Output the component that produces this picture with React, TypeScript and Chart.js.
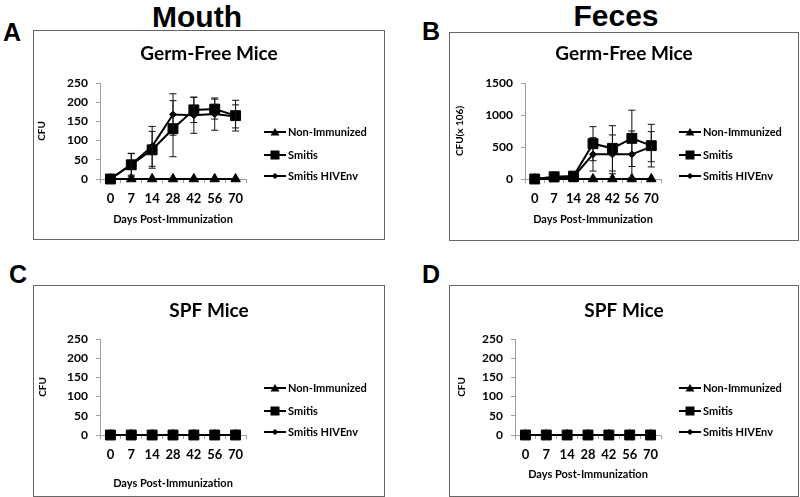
import React, { useEffect, useRef } from "react";
import { Chart, registerables } from "chart.js";

Chart.register(...registerables);

// ---------- data ----------
const days = ["0", "7", "14", "28", "42", "56", "70"];
const seriesNames = ["Non-Immunized", "Smitis", "Smitis HIVEnv"];

// A: Mouth, Germ-Free
const mouthGFNonImm = [0, 0, 0, 0, 0, 0, 0];
const mouthGFSmitis = [0, 37, 76, 131, 180, 182, 165];
const mouthGFSmitisErr = [0, 30, 48, 73, 33, 26, 40];
const mouthGFHiv = [0, 38, 85, 168, 166, 169, 163];
const mouthGFHivErr = [0, 28, 52, 54, 47, 42, 30];

// B: Feces, Germ-Free (CFU x 10^6)
const fecesGFNonImm = [0, 0, 0, 0, 0, 0, 0];
const fecesGFSmitis = [0, 35, 45, 552, 479, 635, 521];
const fecesGFSmitisErr = [0, 0, 0, 266, 354, 440, 333];
const fecesGFHiv = [0, 25, 35, 385, 385, 385, 505];
const fecesGFHivErr = [0, 0, 0, 261, 303, 365, 235];

// C: Mouth, SPF
const mouthSPFNonImm = [0, 0, 0, 0, 0, 0, 0];
const mouthSPFSmitis = [0, 0, 0, 0, 0, 0, 0];
const mouthSPFHiv = [0, 0, 0, 0, 0, 0, 0];

// D: Feces, SPF
const fecesSPFNonImm = [0, 0, 0, 0, 0, 0, 0];
const fecesSPFSmitis = [0, 0, 0, 0, 0, 0, 0];
const fecesSPFHiv = [0, 0, 0, 0, 0, 0, 0];

const yTicksMouth = { max: 250, step: 50 };
const yTicksFeces = { max: 1500, step: 500 };

// ---------- layout config ----------
const FONT = "Lato, 'Open Sans', sans-serif";

type PanelCfg = {
  box: { left: number; top: number; width: number; height: number };
  area: { left: number; right: number; top: number; bottom: number };
  title: string;
  titleCenter: number;
  yMax: number;
  yStep: number;
  yTitle: string;
  yTitleX: number;
  xTitleY: number;
  series: number[][];
  errors: (number[] | null)[];
};

const panels: PanelCfg[] = [
  {
    box: { left: 33, top: 30, width: 352, height: 210 },
    area: { left: 66, right: 212, top: 52, bottom: 148 },
    title: "Germ-Free Mice",
    titleCenter: 23,
    yMax: yTicksMouth.max,
    yStep: yTicksMouth.step,
    yTitle: "CFU",
    yTitleX: 8,
    xTitleY: 188,
    series: [mouthGFNonImm, mouthGFSmitis, mouthGFHiv],
    errors: [null, mouthGFSmitisErr, mouthGFHivErr],
  },
  {
    box: { left: 449, top: 32, width: 350, height: 209 },
    area: { left: 75, right: 211, top: 50, bottom: 146 },
    title: "Germ-Free Mice",
    titleCenter: 21,
    yMax: yTicksFeces.max,
    yStep: yTicksFeces.step,
    yTitle: "CFU(x 106)",
    yTitleX: 10,
    xTitleY: 186,
    series: [fecesGFNonImm, fecesGFSmitis, fecesGFHiv],
    errors: [null, fecesGFSmitisErr, fecesGFHivErr],
  },
  {
    box: { left: 33, top: 285, width: 352, height: 212 },
    area: { left: 66, right: 212, top: 53, bottom: 149 },
    title: "SPF Mice",
    titleCenter: 25,
    yMax: yTicksMouth.max,
    yStep: yTicksMouth.step,
    yTitle: "CFU",
    yTitleX: 9,
    xTitleY: 197,
    series: [mouthSPFNonImm, mouthSPFSmitis, mouthSPFHiv],
    errors: [null, null, null],
  },
  {
    box: { left: 449, top: 285, width: 350, height: 212 },
    area: { left: 65, right: 211, top: 53, bottom: 149 },
    title: "SPF Mice",
    titleCenter: 25,
    yMax: yTicksMouth.max,
    yStep: yTicksMouth.step,
    yTitle: "CFU",
    yTitleX: 12,
    xTitleY: 188,
    series: [fecesSPFNonImm, fecesSPFSmitis, fecesSPFHiv],
    errors: [null, null, null],
  },
];

const pointStyles = ["triangle", "rect", "rectRot"];
const pointRadii = [5.5, 7, 3.5];

function drawLegendMarker(ctx: CanvasRenderingContext2D, kind: number, x: number, y: number) {
  ctx.beginPath();
  if (kind === 0) {
    ctx.moveTo(x, y - 4);
    ctx.lineTo(x + 4.5, y + 3.5);
    ctx.lineTo(x - 4.5, y + 3.5);
    ctx.closePath();
  } else if (kind === 1) {
    ctx.rect(x - 4.5, y - 4.5, 9, 9);
  } else {
    ctx.moveTo(x, y - 3);
    ctx.lineTo(x + 3.5, y);
    ctx.lineTo(x, y + 3);
    ctx.lineTo(x - 3.5, y);
    ctx.closePath();
  }
  ctx.fill();
}

function Panel({ cfg }: { cfg: PanelCfg }) {
  const ref = useRef<HTMLCanvasElement>(null);
  const W = cfg.box.width - 2;
  const H = cfg.box.height - 2;

  useEffect(() => {
    const xTitleLH = 11 * 1.2;
    const xTitlePadBottom = H - cfg.xTitleY - xTitleLH / 2;
    const yTitleLH = 10 * 1.2;
    const yTitlePadTop = cfg.yTitleX - yTitleLH / 2;

    const errorBars = {
      id: "errorBars",
      afterDatasetsDraw(chart: any) {
        const ctx = chart.ctx;
        const yScale = chart.scales.y;
        ctx.save();
        ctx.strokeStyle = "#111";
        ctx.lineWidth = 1;
        chart.data.datasets.forEach((ds: any, di: number) => {
          const err = cfg.errors[di];
          if (!err) return;
          const meta = chart.getDatasetMeta(di);
          meta.data.forEach((pt: any, i: number) => {
            const e = err[i];
            if (!e) return;
            const v = ds.data[i];
            const yTop = yScale.getPixelForValue(v + e);
            const yBot = yScale.getPixelForValue(Math.max(0, v - e));
            const x = pt.x;
            ctx.beginPath();
            ctx.moveTo(x, yTop);
            ctx.lineTo(x, yBot);
            ctx.moveTo(x - 3.5, yTop);
            ctx.lineTo(x + 3.5, yTop);
            if (v - e > 0) {
              ctx.moveTo(x - 3.5, yBot);
              ctx.lineTo(x + 3.5, yBot);
            }
            ctx.stroke();
          });
        });
        ctx.restore();
      },
    };

    const titleAndLegend = {
      id: "titleAndLegend",
      afterDraw(chart: any) {
        const ctx = chart.ctx;
        const a = chart.chartArea;
        ctx.save();
        // chart title, centred on the whole panel
        ctx.fillStyle = "#000";
        ctx.font = `bold 19px ${FONT}`;
        ctx.textAlign = "center";
        ctx.textBaseline = "middle";
        ctx.fillText(cfg.title, chart.width / 2, cfg.titleCenter);
        // legend
        const rows = [49, 72, 93];
        seriesNames.forEach((name, i) => {
          const y = a.top + rows[i];
          const x0 = a.right + 18;
          const x1 = a.right + 40;
          ctx.strokeStyle = "#000";
          ctx.fillStyle = "#000";
          ctx.lineWidth = 2;
          ctx.beginPath();
          ctx.moveTo(x0, y);
          ctx.lineTo(x1, y);
          ctx.stroke();
          drawLegendMarker(ctx, i, (x0 + x1) / 2, y);
          ctx.font = `bold 11px ${FONT}`;
          ctx.textBaseline = "middle";
          ctx.textAlign = "left";
          ctx.fillText(name, x1 + 2, y + 0.5);
        });
        ctx.restore();
      },
    };

    const chart = new Chart(ref.current as HTMLCanvasElement, {
      type: "line",
      data: {
        labels: days,
        datasets: cfg.series.map((vals, i) => ({
          label: seriesNames[i],
          data: vals,
          borderColor: "#000",
          backgroundColor: "#000",
          borderWidth: 2,
          pointStyle: pointStyles[i] as any,
          pointRadius: pointRadii[i],
          pointBackgroundColor: "#000",
          pointBorderColor: "#000",
          pointBorderWidth: 1,
          tension: 0,
          fill: false,
          clip: false as any,
        })),
      },
      options: {
        animation: false,
        responsive: false,
        devicePixelRatio: 1,
        events: [],
        layout: {
          padding: { left: 0, right: W - cfg.area.right, top: cfg.area.top, bottom: 0 },
        },
        plugins: {
          legend: { display: false },
          tooltip: { enabled: false },
          title: { display: false },
        },
        scales: {
          x: {
            type: "category",
            offset: true,
            grid: { offset: true, drawOnChartArea: false, tickLength: 4, color: "#a0a0a0" },
            border: { color: "#a0a0a0" },
            ticks: {
              color: "#000",
              font: { family: FONT, size: 13, weight: "bold" },
              padding: 8,
              maxRotation: 0,
              autoSkip: false,
            },
            title: {
              display: true,
              text: "Days Post-Immunization",
              color: "#000",
              font: { family: FONT, size: 11, weight: "bold" },
              padding: { top: 0, bottom: xTitlePadBottom },
            },
            afterFit: (s: any) => {
              s.height = H - cfg.area.bottom;
            },
          },
          y: {
            min: 0,
            max: cfg.yMax,
            grid: { drawOnChartArea: false, tickLength: 4, color: "#a0a0a0" },
            border: { color: "#a0a0a0" },
            ticks: {
              stepSize: cfg.yStep,
              color: "#000",
              font: { family: FONT, size: 12, weight: "bold" },
              padding: 8,
              callback: (v: any) => String(v),
            },
            title: {
              display: true,
              text: cfg.yTitle,
              color: "#000",
              font: { family: FONT, size: 10, weight: "bold" },
              padding: { top: yTitlePadTop, bottom: 0 },
            },
            afterFit: (s: any) => {
              s.width = cfg.area.left;
            },
          },
        },
      } as any,
      plugins: [errorBars, titleAndLegend],
    });
    return () => chart.destroy();
  }, []);

  return (
    <div
      style={{
        position: "absolute",
        left: cfg.box.left,
        top: cfg.box.top,
        width: cfg.box.width,
        height: cfg.box.height,
        border: "1px solid #666",
        boxSizing: "border-box",
        background: "#fff",
      }}
    >
      <canvas ref={ref} width={W} height={H} style={{ display: "block", width: W, height: H }} />
    </div>
  );
}

const headStyle = (left: number, top: number, size: number): React.CSSProperties => ({
  position: "absolute",
  left,
  top,
  fontFamily: "'Liberation Sans', Arial, sans-serif",
  fontWeight: "bold",
  fontSize: size,
  lineHeight: `${size}px`,
  color: "#000",
  whiteSpace: "nowrap",
});

export default function App() {
  return (
    <div
      style={{
        position: "absolute",
        left: 0,
        top: 0,
        width: 800,
        height: 497,
        background: "#fff",
        overflow: "hidden",
      }}
    >
      <div style={{ ...headStyle(152, 1.5, 30), width: 90, textAlign: "center" }}>Mouth</div>
      <div style={{ ...headStyle(573, 0.5, 30), width: 86, textAlign: "center" }}>Feces</div>
      <div style={headStyle(3, 20, 25)}>A</div>
      <div style={headStyle(422, 19, 25)}>B</div>
      <div style={headStyle(9, 262, 25)}>C</div>
      <div style={headStyle(422, 262, 25)}>D</div>
      {panels.map((p, i) => (
        <Panel key={i} cfg={p} />
      ))}
    </div>
  );
}
